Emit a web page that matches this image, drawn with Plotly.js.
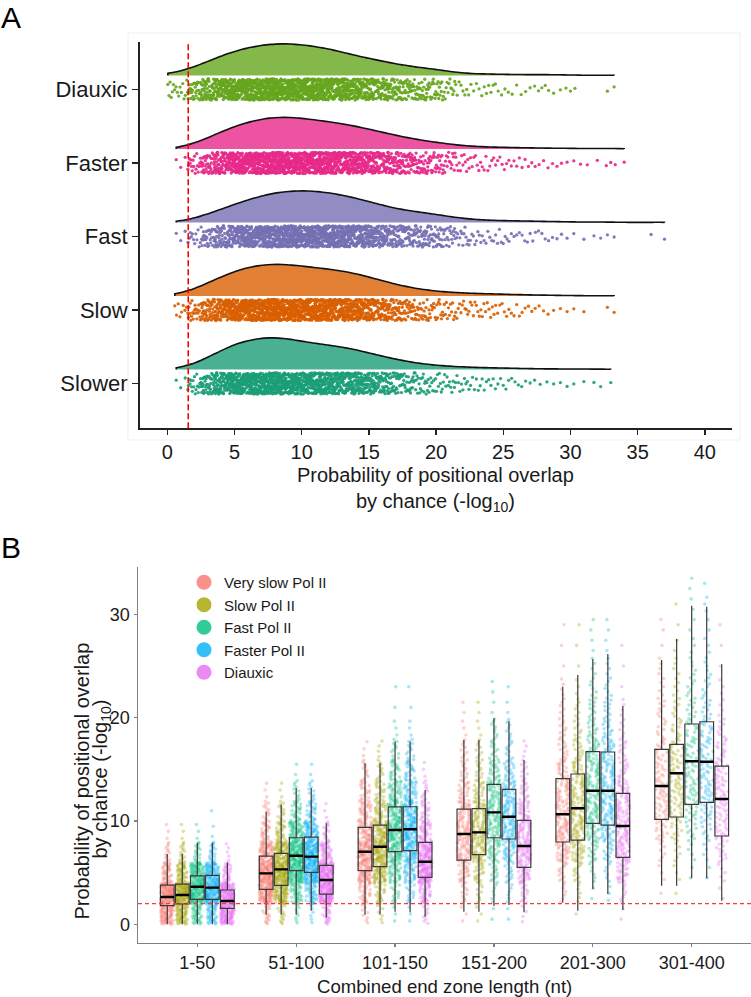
<!DOCTYPE html>
<html>
<head>
<meta charset="utf-8">
<script src="https://cdn.plot.ly/plotly-3.0.1.min.js"></script>
<style>
html,body{margin:0;padding:0;background:#fff;}
#chart{width:751px;height:997px;}
</style>
</head>
<body>
<div id="chart"></div>
<script>
// ---------------- Panel A data (counts of genes per bin of -log10 p; bins centred on integers) ----------------
const groupsA = ['Diauxic', 'Faster', 'Fast', 'Slow', 'Slower'];
const binEdgesA = [0,0.5,1.5,2.5,3.5,4.5,5.5,6.5,7.5,8.5,9.5,10.5,11.5,12.5,13.5,14.5,15.5,16.5,17.5,18.5,19.5,20.5,21.5,22.5,23.5,24.5,25.5,26.5,27.5,28.5,29.5,30.5,31.5,32.5,33.5,34.5,35.5,36.5,37.5];
const countsDiauxic = [6,10,30,50,70,88,100,108,115,114,110,104,95,84,70,60,52,40,32,28,22,14,7,5,6,4,3,3,4,2,3,0,0,2,0,0,0,0];
const countsFaster  = [0,3,18,38,62,82,96,108,115,114,110,103,97,90,82,70,60,48,38,30,24,17,11,8,7,6,5,4,3,3,2,2,1,3,1,0,0,0];
const countsFast    = [0,3,12,28,45,62,78,92,102,108,110,108,102,94,84,72,58,46,40,34,28,20,13,9,7,7,5,5,4,3,2,1,2,2,0,0,1,1];
const countsSlow    = [0,8,22,45,70,88,103,112,115,112,106,100,95,90,80,68,54,40,30,22,17,13,10,9,8,6,5,4,3,2,2,1,0,2,0,0,0,0];
const countsSlower  = [0,3,18,40,68,90,104,112,115,108,98,90,85,80,70,58,46,35,26,19,14,11,9,7,6,5,4,3,2,2,2,1,2,1,0,0,0,0];
const thresholdA = 1.56;
const ticksA = [0,5,10,15,20,25,30,35,40];

// ---------------- Panel B data ----------------
const catsB = ['1-50','51-100','101-150','151-200','201-300','301-400'];
const namesB = ['Very slow Pol II','Slow Pol II','Fast Pol II','Faster Pol II','Diauxic'];
const binEdgesB = [0,2,4,6,8,10,12,14,16,18,20,22,24,26,28,30,32,34];
// counts of points per 2-unit bin, one row per length category
const ptsVerySlow = [
  [80,115,40,12,3,0,0,0,0,0,0,0,0,0,0,0,0],
  [18,90,110,70,25,12,3,0,0,0,0,0,0,0,0,0,0],
  [8,30,65,75,50,35,20,10,3,0,0,0,0,0,0,0,0],
  [3,10,25,40,42,35,20,12,8,3,2,0,0,0,0,0,0],
  [0,6,12,30,38,32,28,20,12,9,6,4,1,1,1,0,0],
  [0,1,3,6,16,18,20,14,14,8,8,5,4,1,2,0,0]];
const ptsSlow = [
  [65,120,48,14,3,0,0,0,0,0,0,0,0,0,0,0,0],
  [15,80,110,80,28,12,3,0,0,0,0,0,0,0,0,0,0],
  [6,25,60,78,58,35,20,10,4,0,0,0,0,0,0,0,0],
  [3,8,22,42,45,35,20,12,8,3,2,0,0,0,0,0,0],
  [1,5,12,28,35,32,30,22,14,9,6,3,1,1,1,0,0],
  [0,1,3,6,12,16,18,18,16,10,7,5,4,2,1,1,0]];
const ptsFast = [
  [40,105,85,17,3,0,0,0,0,0,0,0,0,0,0,0,0],
  [8,40,95,100,60,25,10,2,0,0,0,0,0,0,0,0,0],
  [3,15,35,55,65,55,35,20,10,3,1,1,0,0,0,0,0],
  [2,6,14,25,35,40,32,22,12,8,2,2,0,0,0,0,0],
  [0,2,6,14,26,32,32,28,22,14,10,6,4,2,2,0,0],
  [0,0,2,4,10,14,16,16,16,12,9,7,5,3,2,2,2]];
const ptsFaster = [
  [42,105,82,18,2,1,0,0,0,0,0,0,0,0,0,0,0],
  [6,40,95,100,62,25,10,2,0,0,0,0,0,0,0,0,0],
  [3,15,33,55,68,55,35,20,10,3,1,1,0,0,0,0,0],
  [2,6,14,26,40,42,30,20,10,7,2,1,0,0,0,0,0],
  [0,3,6,14,27,30,32,28,22,14,10,6,4,2,2,0,0],
  [0,0,2,4,9,14,17,16,15,13,9,7,5,3,2,3,1]];
const ptsDiauxic = [
  [105,110,30,5,0,0,0,0,0,0,0,0,0,0,0,0,0],
  [25,115,120,45,15,3,0,0,0,0,0,0,0,0,0,0,0],
  [10,40,95,80,40,20,10,3,0,0,0,0,0,0,0,0,0],
  [4,14,35,50,42,27,15,9,4,0,0,0,0,0,0,0,0],
  [2,8,25,35,35,32,25,15,10,6,4,1,1,1,0,0,0],
  [0,2,5,12,18,18,20,15,12,8,4,3,1,1,1,0,0]];
// box statistics (lower whisker, Q1, median, Q3, upper whisker)
const lowVerySlow = [0,0.93,0.93,1.22,2.09,3.74];
const q1VerySlow  = [1.8,3.38,5.19,6.22,7.97,10.16];
const medVerySlow = [2.64,4.93,7.03,8.74,10.65,13.39];
const q3VerySlow  = [3.8,6.6,9.39,11.16,14.1,16.94];
const upVerySlow  = [6.8,10.9,15.6,17.84,23.0,25.59];
const lowSlow = [0,0.93,0.93,1.22,1.32,3.74];
const q1Slow  = [1.97,3.77,5.58,6.74,8.16,10.39];
const medSlow = [2.84,5.32,7.51,8.9,11.23,14.62];
const q3Slow  = [3.9,6.87,9.61,11.19,14.55,17.42];
const upSlow  = [6.8,11.6,15.6,17.84,24.13,27.62];
const lowFast = [0,0.93,1.22,1.77,3.42,4.45];
const q1Fast  = [2.42,5.19,7.03,8.38,9.78,11.62];
const medFast = [3.64,6.64,9.13,10.84,12.93,15.78];
const q3Fast  = [4.68,8.38,11.36,13.55,16.71,19.39];
const upFast  = [7.9,13.2,17.7,19.94,25.68,30.84];
const lowFaster = [0,1.32,1.16,1.87,2.93,4.45];
const q1Faster  = [2.42,5.03,7.13,8.26,9.61,11.81];
const medFaster = [3.55,6.55,9.2,10.42,12.93,15.74];
const q3Faster  = [4.74,8.45,11.38,13.07,16.68,19.61];
const upFaster  = [7.9,13.2,17.7,19.68,26.17,30.75];
const lowDiauxic = [0,0.64,0.74,1.16,1.38,2.29];
const q1Diauxic  = [1.55,2.93,4.55,5.52,6.49,8.55];
const medDiauxic = [2.26,4.29,6.06,7.58,9.52,12.13];
const q3Diauxic  = [3.32,5.71,7.93,10.07,12.68,15.32];
const upDiauxic  = [5.97,9.78,13.0,15.9,21.13,25.17];
const thresholdB = 2;
const ticksB = [0,10,20,30];

// ---------------- helpers ----------------
function expandCounts(edges, counts) {
  const out = [];
  counts.forEach(function (c, i) {
    const a = edges[i], w = edges[i + 1] - edges[i];
    for (let j = 0; j < c; j++) out.push(a + (j + 0.5) / c * w);
  });
  return out;
}
function expandBoxes(rows) {
  const xs = [], ys = [];
  rows.forEach(function (row, ci) {
    expandCounts(binEdgesB, row).forEach(function (v) { xs.push(catsB[ci]); ys.push(v); });
  });
  return {xs: xs, ys: ys};
}

const FONT = 'Liberation Sans, Arial, Helvetica, sans-serif';
const W = 751, H = 997;
const px = function (x) { return x / W; };
const py = function (y) { return (H - y) / H; };

// ---------------- Panel A traces ----------------
const countsA = [countsDiauxic, countsFaster, countsFast, countsSlow, countsSlower];
const colorsA = ['#66A61E', '#E7298A', '#7570B3', '#D95F02', '#1B9E77'];
const fillsA = ['rgba(102,166,30,0.8)', 'rgba(231,41,138,0.8)', 'rgba(117,112,179,0.8)', 'rgba(217,95,2,0.8)', 'rgba(27,158,119,0.8)'];
const posA = [5, 4, 3, 2, 1];
const traces = [];
groupsA.forEach(function (g, i) {
  const vals = expandCounts(binEdgesA, countsA[i]);
  // jittered raw points
  traces.push({
    type: 'violin', orientation: 'h', x: vals, y0: posA[i], name: g,
    xaxis: 'x', yaxis: 'y', side: 'both', width: 0.29,
    points: 'all', jitter: 1, pointpos: 0,
    line: {width: 0, color: 'rgba(0,0,0,0)'}, fillcolor: 'rgba(0,0,0,0)',
    marker: {color: colorsA[i], size: 3.3, opacity: 0.92},
    box: {visible: false}, meanline: {visible: false},
    hoverinfo: 'skip', showlegend: false
  });
  // half violin (density cloud)
  traces.push({
    type: 'violin', orientation: 'h', x: vals, y0: posA[i] + 0.19, name: g,
    xaxis: 'x', yaxis: 'y', side: 'positive', width: 0.86,
    points: false, spanmode: 'hard', scalemode: 'width', bandwidth: 1.1,
    line: {color: '#111', width: 1.6}, fillcolor: fillsA[i],
    box: {visible: false}, meanline: {visible: false},
    hoverinfo: 'skip', showlegend: false
  });
});

// ---------------- Panel B traces ----------------
const ptsB = [ptsVerySlow, ptsSlow, ptsFast, ptsFaster, ptsDiauxic];
const lowB = [lowVerySlow, lowSlow, lowFast, lowFaster, lowDiauxic];
const q1B = [q1VerySlow, q1Slow, q1Fast, q1Faster, q1Diauxic];
const medB = [medVerySlow, medSlow, medFast, medFaster, medDiauxic];
const q3B = [q3VerySlow, q3Slow, q3Fast, q3Faster, q3Diauxic];
const upB = [upVerySlow, upSlow, upFast, upFaster, upDiauxic];
const colorsB = ['#F8766D', '#A3A500', '#00BF7D', '#00B0F6', '#E76BF3'];

namesB.forEach(function (n, i) {
  const p = expandBoxes(ptsB[i]);
  traces.push({
    type: 'box', x: p.xs, y: p.ys, name: n, offsetgroup: 'g' + i,
    xaxis: 'x2', yaxis: 'y2', boxpoints: 'all', jitter: 1, pointpos: 0,
    line: {width: 0, color: 'rgba(0,0,0,0)'}, fillcolor: 'rgba(0,0,0,0)', whiskerwidth: 0,
    marker: {color: colorsB[i], size: 3.6, opacity: 0.33},
    hoverinfo: 'skip', showlegend: false
  });
});
namesB.forEach(function (n, i) {
  traces.push({
    type: 'box', x: catsB, q1: q1B[i], median: medB[i], q3: q3B[i],
    lowerfence: lowB[i], upperfence: upB[i], name: n, offsetgroup: 'g' + i,
    xaxis: 'x2', yaxis: 'y2', boxpoints: false,
    line: {color: '#3a3a3a', width: 1.2}, fillcolor: 'rgba(0,0,0,0)', whiskerwidth: 0,
    hoverinfo: 'skip', showlegend: false
  });
  // thick median bar
  traces.push({
    type: 'box', x: catsB, q1: medB[i], median: medB[i], q3: medB[i],
    lowerfence: medB[i], upperfence: medB[i], name: n, offsetgroup: 'g' + i,
    xaxis: 'x2', yaxis: 'y2', boxpoints: false,
    line: {color: '#000', width: 2.4}, fillcolor: 'rgba(0,0,0,0)', whiskerwidth: 0,
    hoverinfo: 'skip', showlegend: false
  });
});
// legend keys
namesB.forEach(function (n, i) {
  traces.push({
    type: 'scatter', mode: 'markers', x: [null], y: [null], name: n,
    xaxis: 'x2', yaxis: 'y2',
    marker: {color: colorsB[i], size: 15, opacity: 0.8}, showlegend: true
  });
});

// ---------------- Layout ----------------
const layout = {
  width: W, height: H,
  margin: {l: 0, r: 0, t: 0, b: 0, pad: 0},
  paper_bgcolor: '#fff', plot_bgcolor: 'rgba(0,0,0,0)',
  font: {family: FONT, color: '#1a1a1a'},
  violinmode: 'overlay',
  boxmode: 'group', boxgap: 0.24, boxgroupgap: 0.09,
  showlegend: true,
  legend: {
    x: px(184), xanchor: 'left', y: py(566), yanchor: 'top',
    bgcolor: 'rgba(0,0,0,0)', font: {size: 15, family: FONT, color: '#1a1a1a'},
    itemsizing: 'trace', tracegroupgap: 0
  },
  xaxis: {
    domain: [px(140), px(731.7)], anchor: 'y', range: [-2.03, 42.0],
    tickmode: 'array', tickvals: ticksA, ticktext: ticksA.map(String),
    ticks: 'outside', ticklen: 5, tickwidth: 1.4, tickcolor: '#222',
    showline: true, linecolor: '#222', linewidth: 2,
    showgrid: false, zeroline: false,
    tickfont: {size: 20, family: FONT, color: '#1a1a1a'}
  },
  yaxis: {
    domain: [py(428.3), py(42)], anchor: 'x', range: [0.39, 5.646],
    tickmode: 'array', tickvals: posA, ticktext: groupsA,
    ticks: 'outside', ticklen: 6, tickwidth: 1.4, tickcolor: '#222',
    showline: true, linecolor: '#222', linewidth: 2,
    showgrid: false, zeroline: false,
    tickfont: {size: 22, family: FONT, color: '#1a1a1a'}
  },
  xaxis2: {
    domain: [px(138), px(751)], anchor: 'y2', type: 'category',
    categoryorder: 'array', categoryarray: catsB, range: [-0.6, 5.6],
    ticks: 'outside', ticklen: 3, tickwidth: 1.2, tickcolor: '#808080',
    showline: true, linecolor: '#808080', linewidth: 1.5,
    showgrid: false, zeroline: false,
    tickfont: {size: 18, family: FONT, color: '#1a1a1a'}
  },
  yaxis2: {
    domain: [py(942.5), py(567)], anchor: 'x2', range: [-1.76, 34.59],
    tickmode: 'array', tickvals: ticksB, ticktext: ticksB.map(String),
    ticks: 'outside', ticklen: 3, tickwidth: 1.2, tickcolor: '#808080',
    showline: true, linecolor: '#808080', linewidth: 1.5,
    showgrid: false, zeroline: false,
    tickfont: {size: 18, family: FONT, color: '#1a1a1a'}
  },
  shapes: [
    {type: 'rect', xref: 'paper', yref: 'paper', x0: px(128), x1: px(740), y0: py(440), y1: py(33),
     line: {color: '#efefef', width: 1}, fillcolor: 'rgba(0,0,0,0)', layer: 'below'},
    {type: 'line', xref: 'x', yref: 'y', x0: thresholdA, x1: thresholdA, y0: 0.39, y1: 5.646,
     line: {color: '#FF0000', width: 1.6, dash: '6px,3px'}, layer: 'above'},
    {type: 'line', xref: 'x2 domain', yref: 'y2', x0: 0, x1: 1, y0: thresholdB, y1: thresholdB,
     line: {color: '#F03C3C', width: 1.1, dash: '4px,3px'}, layer: 'above'}
  ],
  annotations: [
    {text: 'A', xref: 'paper', yref: 'paper', x: 0, y: 1, xanchor: 'left', yanchor: 'top', borderpad: 0,
     showarrow: false, font: {size: 30, family: FONT, color: '#000'}},
    {text: 'B', xref: 'paper', yref: 'paper', x: 0, y: py(530), xanchor: 'left', yanchor: 'top', borderpad: 0,
     showarrow: false, font: {size: 30, family: FONT, color: '#000'}},
    {text: 'Probability of positional overlap<br>by chance (-log<sub>10</sub>)', xref: 'paper', yref: 'paper',
     x: px(435), y: py(489), xanchor: 'center', yanchor: 'middle', showarrow: false,
     font: {size: 20, family: FONT, color: '#1a1a1a'}},
    {text: 'Probability of positional overlap', xref: 'paper', yref: 'paper', x: px(81.5), y: py(781),
     xanchor: 'center', yanchor: 'middle', textangle: -90, showarrow: false,
     font: {size: 20, family: FONT, color: '#1a1a1a'}},
    {text: 'by chance (-log<sub>10</sub>)', xref: 'paper', yref: 'paper', x: px(100.5), y: py(779),
     xanchor: 'center', yanchor: 'middle', textangle: -90, showarrow: false,
     font: {size: 20, family: FONT, color: '#1a1a1a'}},
    {text: 'Combined end zone length (nt)', xref: 'paper', yref: 'paper', x: px(444.5), y: py(986),
     xanchor: 'center', yanchor: 'middle', showarrow: false, font: {size: 18.6, family: FONT, color: '#1a1a1a'}}
  ]
};

Plotly.newPlot('chart', traces, layout, {displayModeBar: false, staticPlot: true});
</script>
</body>
</html>
